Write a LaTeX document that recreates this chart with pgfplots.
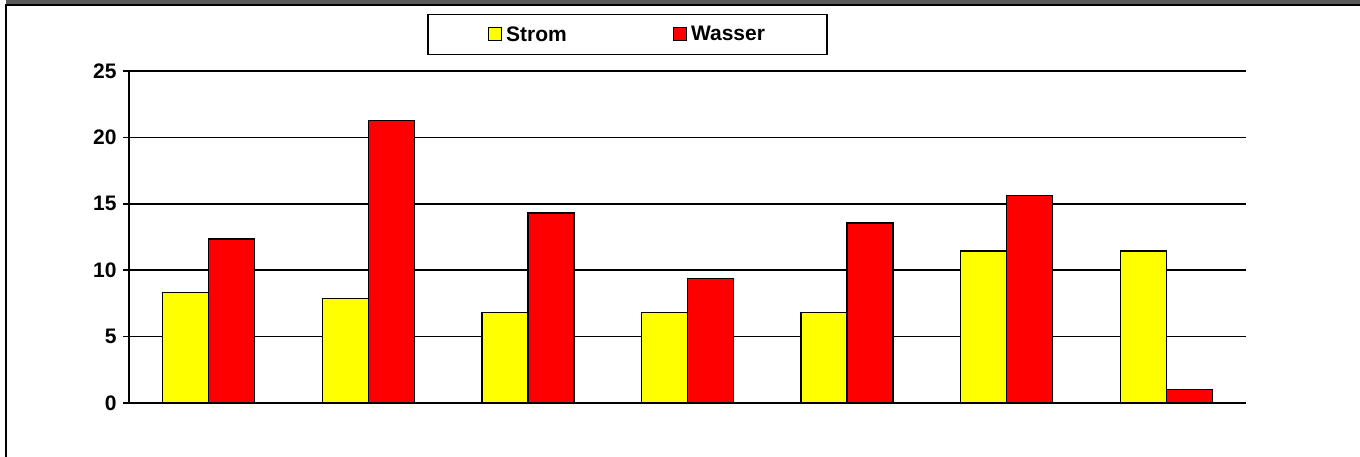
\documentclass[border=0pt]{standalone}
\usepackage{fontspec}
\setmainfont{Liberation Sans}
\usepackage{pgfplots}
\pgfplotsset{compat=1.18}
\definecolor{topgray}{HTML}{5A5A5A}
\definecolor{byellow}{HTML}{FFFF00}
\definecolor{bred}{HTML}{FF0000}
\begin{document}
\begin{tikzpicture}[x=1pt,y=1pt]
\useasboundingbox (0,0) rectangle (1360,457);
\fill[topgray] (6,452) rectangle (1360,457);
\draw[line width=2pt] (6,0) -- (6,452) -- (1360,452);
\begin{axis}[
  at={(129pt,54pt)}, anchor=south west,
  scale only axis, width=1117pt, height=332pt,
  xmin=-0.5, xmax=6.5, ymin=0, ymax=25,
  ytick={0,5,10,15,20,25}, xtick=\empty,
  axis x line*=bottom, axis y line*=left,
  axis line style={line width=1.6pt,-},
  ymajorgrids, grid style={black,line width=1.6pt},
  major tick length=6pt, tick align=outside, ytick pos=left,
  tick style={black,line width=1.6pt},
  yticklabel style={font=\bfseries\fontsize{21}{24}\selectfont, xshift=-3pt},
  /pgf/number format/assume math mode=true,
  ybar=0pt, bar width=46pt,
  legend columns=2,
  legend style={at={(0.4463,1.11)}, anchor=center, draw=black, line width=1.6pt,
    font=\bfseries\fontsize{21}{24}\selectfont, inner xsep=60pt, inner ysep=10pt,
    /tikz/every even column/.append style={column sep=104pt},
    /tikz/every odd column/.append style={column sep=2pt}},
  legend image code/.code={\draw[#1,line width=1.2pt] (0pt,-6pt) rectangle (13pt,7pt);},
]
\addplot[fill=byellow, draw=black, line width=1.2pt] coordinates {(0,8.3) (1,7.85) (2,6.8) (3,6.8) (4,6.8) (5,11.45) (6,11.45)};
\addplot[fill=bred, draw=black, line width=1.2pt] coordinates {(0,12.35) (1,21.3) (2,14.3) (3,9.35) (4,13.55) (5,15.65) (6,1.0)};
\legend{Strom,Wasser}
\end{axis}
\end{tikzpicture}
\end{document}
